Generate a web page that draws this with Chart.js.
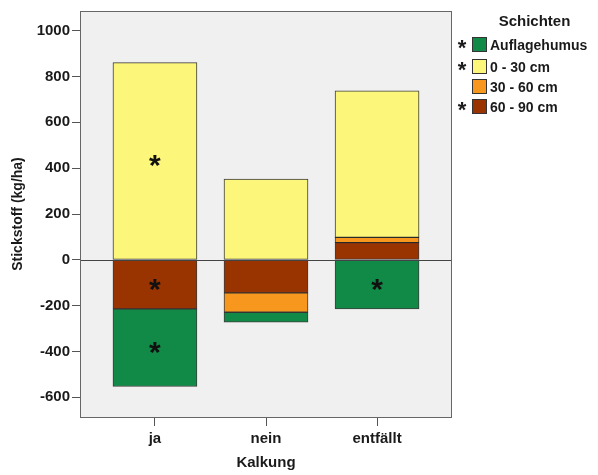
<!DOCTYPE html>
<html>
<head>
<meta charset="utf-8">
<script src="https://cdn.jsdelivr.net/npm/chart.js@4.4.1/dist/chart.umd.min.js"></script>
<style>
  body { margin: 0; background: #fff; font-family: "Liberation Sans", Arial, sans-serif; }
  #wrap { position: relative; width: 598px; height: 475px; }
  #legend { position: absolute; left: 452px; top: 0; width: 146px; color: #1a1a1a; }
  #legend .title { position: absolute; left: 0; width: 165px; top: 12px; text-align: center; font-weight: bold; font-size: 15px; }
  #legend .row { position: absolute; left: 0; height: 20px; display: flex; align-items: center; font-weight: bold; font-size: 14px; }
  #legend .star { width: 20px; text-align: center; font-size: 22px; line-height: 20px; padding-top: 6px; box-sizing: border-box; }
  #legend .box { width: 15px; height: 15px; box-sizing: border-box; border: 1px solid #333; margin-right: 3px; }
</style>
</head>
<body>
<div id="wrap">
  <canvas id="chart" width="598" height="475"></canvas>
  <div id="legend"></div>
</div>
<script>
const categories = ["ja", "nein", "entfällt"];

// Schichten (stack order from zero outward)
const cm60_90 = [-214, -144, 75];
const cm30_60 = [null, -85, 23];
const cm0_30 = [861, 352, 640];
const humus = [-339, -43, -214];

// significance marks (*) per segment
const cm60_90Star = [true, false, false];
const cm30_60Star = [false, false, false];
const cm0_30Star = [true, false, false];
const humusStar = [true, false, true];

const yTicks = [-600, -400, -200, 0, 200, 400, 600, 800, 1000];

const legendItems = [
  { label: "Auflagehumus", color: "#108a46", star: true },
  { label: "0 - 30 cm", color: "#fcf67a", star: true },
  { label: "30 - 60 cm", color: "#f7971d", star: false },
  { label: "60 - 90 cm", color: "#993300", star: true }
];

Chart.defaults.font.family = '"Liberation Sans", Arial, sans-serif';
Chart.defaults.color = "#1a1a1a";

function toPoints(arr) {
  return arr.map((v, i) => ({ x: i, y: v }));
}

const datasets = [
  { label: "60 - 90 cm", data: toPoints(cm60_90), backgroundColor: "#993300", stars: cm60_90Star },
  { label: "30 - 60 cm", data: toPoints(cm30_60), backgroundColor: "#f7971d", stars: cm30_60Star },
  { label: "0 - 30 cm", data: toPoints(cm0_30), backgroundColor: "#fcf67a", stars: cm0_30Star },
  { label: "Auflagehumus", data: toPoints(humus), backgroundColor: "#108a46", stars: humusStar }
].map(d => Object.assign(d, {
  borderColor: "rgba(15,15,15,0.8)",
  borderWidth: 1,
  borderSkipped: false,
  barThickness: 84
}));

const plotFrame = {
  id: "plotFrame",
  beforeDatasetsDraw(chart) {
    const { ctx, chartArea: a } = chart;
    ctx.save();
    ctx.fillStyle = "#f0f0f0";
    ctx.fillRect(a.left, a.top, a.right - a.left, a.bottom - a.top);
    ctx.restore();
  },
  afterDatasetsDraw(chart) {
    const { ctx, chartArea: a, scales } = chart;
    ctx.save();
    // zero line
    const y0 = Math.round(scales.y.getPixelForValue(0)) + 0.5;
    ctx.strokeStyle = "#444";
    ctx.lineWidth = 1;
    ctx.beginPath();
    ctx.moveTo(a.left, y0);
    ctx.lineTo(a.right, y0);
    ctx.stroke();
    // frame
    ctx.strokeStyle = "#666";
    ctx.strokeRect(a.left + 0.5, a.top + 0.5, a.right - a.left - 1, a.bottom - a.top);
    // asterisks
    ctx.fillStyle = "#111";
    ctx.font = 'bold 30px "Liberation Sans", Arial, sans-serif';
    ctx.textAlign = "center";
    ctx.textBaseline = "alphabetic";
    const m = ctx.measureText("*");
    const shift = (m.actualBoundingBoxAscent - m.actualBoundingBoxDescent) / 2;
    chart.data.datasets.forEach((ds, di) => {
      const meta = chart.getDatasetMeta(di);
      ds.stars.forEach((s, i) => {
        if (!s) return;
        const el = meta.data[i];
        const mid = (el.y + el.base) / 2;
        ctx.fillText("*", el.x, mid + shift);
      });
    });
    ctx.restore();
  }
};

new Chart(document.getElementById("chart"), {
  type: "bar",
  data: { datasets },
  options: {
    responsive: false,
    animation: false,
    layout: { padding: { top: 5, right: 146, bottom: 0, left: 0 } },
    plugins: { legend: { display: false }, tooltip: { enabled: false } },
    scales: {
      x: {
        type: "linear",
        stacked: true,
        offset: false,
        min: -0.675,
        max: 2.675,
        afterFit: s => { s.height = 58; },
        afterBuildTicks: s => { s.ticks = categories.map((c, i) => ({ value: i })); },
        border: { display: false },
        grid: { offset: false, drawOnChartArea: false, tickLength: 9, color: "#555" },
        ticks: {
          padding: 4,
          font: { size: 15, weight: "bold" },
          callback: v => categories[v] !== undefined ? categories[v] : ""
        },
        title: { display: true, text: "Kalkung", font: { size: 15, weight: "bold" }, padding: { top: 3, bottom: 3 } }
      },
      y: {
        stacked: true,
        min: -686,
        max: 1086,
        afterFit: s => { s.width = 80; },
        afterBuildTicks: s => { s.ticks = yTicks.map(v => ({ value: v })); },
        border: { display: false },
        grid: { drawOnChartArea: false, tickLength: 8, color: "#555" },
        ticks: { padding: 2, font: { size: 15, weight: "bold" }, callback: v => String(v) },
        title: { display: true, text: "Stickstoff (kg/ha)", font: { size: 14, weight: "bold" }, padding: { top: 10, bottom: 0 } }
      }
    }
  },
  plugins: [plotFrame]
});

// legend
const legend = document.getElementById("legend");
legend.innerHTML = '<div class="title">Schichten</div>';
const rowTops = [34.5, 56.5, 76.5, 96.5];
legendItems.forEach((it, i) => {
  const row = document.createElement("div");
  row.className = "row";
  row.style.top = rowTops[i] + "px";
  row.innerHTML = '<span class="star">' + (it.star ? "*" : "") + '</span>' +
    '<span class="box" style="background:' + it.color + '"></span>' +
    '<span>' + it.label + '</span>';
  legend.appendChild(row);
});
</script>
</body>
</html>
